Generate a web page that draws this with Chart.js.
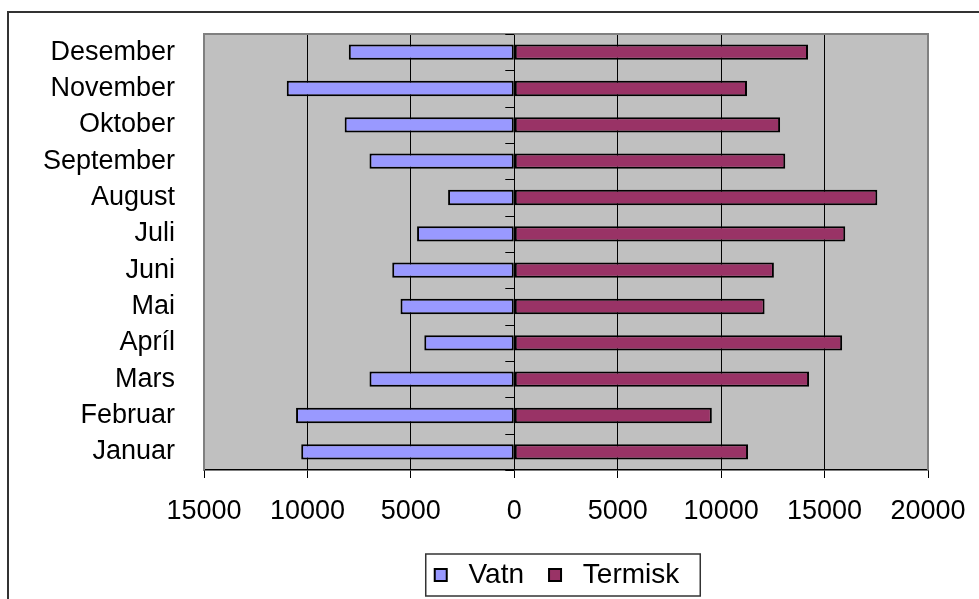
<!DOCTYPE html>
<html>
<head>
<meta charset="utf-8">
<script src="https://cdn.jsdelivr.net/npm/chart.js@4/dist/chart.umd.min.js"></script>
<style>
  html, body { margin: 0; padding: 0; background: #fff; }
  #wrap { position: relative; width: 979px; height: 599px; }
</style>
</head>
<body>
<div id="wrap"><canvas id="chart"></canvas></div>
<script>
// Months, bottom to top as in the picture
const months = ['Januar', 'Februar', 'Mars', 'Apríl', 'Mai', 'Juni', 'Juli', 'August', 'September', 'Oktober', 'November', 'Desember']

// Vatn is drawn to the left of zero, Termisk to the right
const vatn = [-10300, -10550, -7000, -4350, -5500, -5900, -4700, -3200, -7000, -8200, -11000, -8000]
const termisk = [11300, 9550, 14250, 15850, 12100, 12550, 16000, 17550, 13100, 12850, 11250, 14200]

const xMin = -15000
const xMax = 20000
const xStep = 5000

const FONT = '"Liberation Sans", Arial, sans-serif'
const LEGEND_SHIFT = -9

// Grey plot area, outer frame, border round the legend, small ticks on the zero line
const framePlugin = {
  id: 'frame',
  afterUpdate(chart) {
    // nudge the legend a little to the left, like the original
    const legend = chart.legend
    if (!legend) return
    legend.left += LEGEND_SHIFT
    legend.right += LEGEND_SHIFT
    legend.legendHitBoxes.forEach((box) => { box.left += LEGEND_SHIFT })
  },
  beforeDraw(chart) {
    const { ctx, chartArea } = chart
    ctx.save()
    ctx.fillStyle = '#C0C0C0'
    ctx.fillRect(chartArea.left, chartArea.top, chartArea.right - chartArea.left, chartArea.bottom - chartArea.top)
    // outer frame
    ctx.strokeStyle = '#333'
    ctx.lineWidth = 2
    ctx.strokeRect(8, 12, 1200, 1200)
    ctx.restore()
  },
  afterDatasetsDraw(chart) {
    const { ctx, chartArea, scales } = chart
    ctx.save()
    ctx.strokeStyle = '#808080'
    ctx.lineWidth = 2
    ctx.beginPath()
    ctx.moveTo(chartArea.left, chartArea.bottom)
    ctx.lineTo(chartArea.left, chartArea.top)
    ctx.lineTo(chartArea.right, chartArea.top)
    ctx.lineTo(chartArea.right, chartArea.bottom)
    ctx.stroke()

    // tick marks on the zero axis between the categories
    const x0 = scales.x.getPixelForValue(0)
    ctx.strokeStyle = '#000'
    ctx.lineWidth = 1
    ctx.beginPath()
    for (let i = 0; i <= months.length; i++) {
      const y = Math.round(scales.y.getPixelForValue(i - 0.5)) + 0.5
      ctx.moveTo(x0 - 9, y)
      ctx.lineTo(x0, y)
    }
    ctx.stroke()
    ctx.restore()
  },
  afterDraw(chart) {
    const boxes = chart.legend && chart.legend.legendHitBoxes
    if (!boxes || !boxes.length) return
    const first = boxes[0]
    const last = boxes[boxes.length - 1]
    const mid = first.top + first.height / 2
    const ctx = chart.ctx
    ctx.save()
    ctx.strokeStyle = '#333'
    ctx.lineWidth = 1.5
    ctx.strokeRect(first.left - 9, mid - 21, last.left + last.width + 21 - (first.left - 9), 42)
    ctx.restore()
  }
}

new Chart(document.getElementById('chart'), {
  type: 'bar',
  data: {
    labels: months,
    datasets: [
      {
        label: 'Vatn',
        data: vatn,
        backgroundColor: '#9999FF',
        borderColor: '#000',
        borderWidth: 2,
        borderSkipped: false,
        barPercentage: 0.42,
        categoryPercentage: 1.0,
      },
      {
        label: 'Termisk',
        data: termisk,
        backgroundColor: '#993366',
        borderColor: '#000',
        borderWidth: 2,
        borderSkipped: false,
        barPercentage: 0.42,
        categoryPercentage: 1.0,
      },
    ],
  },
  options: {
    indexAxis: 'y',
    responsive: true,
    maintainAspectRatio: false,
    animation: false,
    layout: { padding: { left: 0, top: 34, right: 51, bottom: 0 } },
    scales: {
      x: {
        stacked: true,
        min: xMin,
        max: xMax,
        afterFit: (scale) => {
          scale.height = 66
          scale.paddingLeft = 0
          scale.paddingRight = 0
        },
        grid: { color: '#000', lineWidth: 1, tickLength: 8, drawTicks: true },
        border: { display: true, color: '#000', width: 1.5 },
        ticks: {
          stepSize: xStep,
          padding: 17,
          color: '#000',
          font: { family: FONT, size: 27 },
          callback: (value) => Math.abs(value),
          maxRotation: 0,
        },
      },
      y: {
        stacked: true,
        reverse: true,
        afterFit: (scale) => {
          scale.width = 204
          scale.paddingTop = 0
          scale.paddingBottom = 0
        },
        grid: { display: false },
        border: { display: false },
        ticks: {
          autoSkip: false,
          padding: 21,
          color: '#000',
          font: { family: FONT, size: 27 },
        },
      },
    },
    plugins: {
      legend: {
        position: 'bottom',
        fullSize: false,
        labels: {
          boxWidth: 12,
          boxHeight: 12,
          padding: 25,
          color: '#000',
          font: { family: FONT, size: 28 },
          generateLabels: (chart) =>
            Chart.defaults.plugins.legend.labels.generateLabels(chart).map((item) => ({ ...item, text: ' ' + item.text })),
        },
      },
      tooltip: { enabled: false },
    },
  },
  plugins: [framePlugin],
})
</script>
</body>
</html>
